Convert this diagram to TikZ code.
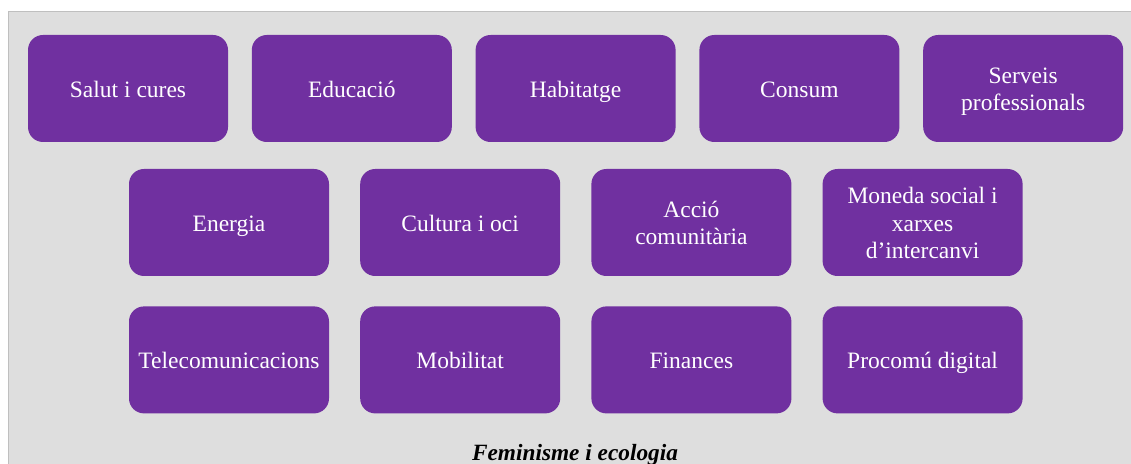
\documentclass[tikz,border=0pt]{standalone}
\usepackage{fontspec}
\setmainfont{Liberation Serif}
\usepackage{tikz}
\usetikzlibrary{positioning}

\definecolor{sectorpurple}{HTML}{7030A0}
\definecolor{panelgray}{HTML}{DEDEDE}
\definecolor{panelline}{HTML}{BFBFBF}
\newcommand{\linestrut}{\rule[-5.2pt]{0pt}{27.7pt}}

\begin{document}
\begin{tikzpicture}[
  x=1pt, y=1pt,
  sectornode/.style={fill=sectorpurple, rounded corners=15pt, minimum width=200pt, minimum height=107pt, inner sep=2pt, text=white, text width=194pt, align=flush center, font=\fontsize{23.5}{27.7}\selectfont, execute at begin node=\linestrut, execute at end node=\linestrut},
  titlelabel/.style={font=\fontsize{23.3}{28}\selectfont\bfseries\itshape, anchor=base, inner sep=0pt}
]
\useasboundingbox (0,0) rectangle (1131,463);

% Background panel
\draw[panelline, line width=1.5pt, fill=panelgray] (8.5,-10) rectangle (1145,451.5);

% First row
\node[sectornode] (salut)   at (128,374.5) {Salut i cures};
\node[sectornode] (educ)    [right=23.4pt of salut] {Educació};
\node[sectornode] (habit)   [right=23.4pt of educ] {Habitatge};
\node[sectornode] (consum)  [right=23.4pt of habit] {Consum};
\node[sectornode] (serveis) [right=23.4pt of consum] {Serveis\\professionals};

% Second row
\node[sectornode] (energia) at (229,240.5) {Energia};
\node[sectornode] (cultura) [right=30.8pt of energia] {Cultura i oci};
\node[sectornode] (accio)   [right=30.8pt of cultura] {Acció\\comunitària};
\node[sectornode] (moneda)  [right=30.8pt of accio] {Moneda social i\\xarxes\\d’intercanvi};

% Third row
\node[sectornode] (telecom)  [below=30pt of energia] {Telecomunicacions};
\node[sectornode] (mobil)    [below=30pt of cultura] {Mobilitat};
\node[sectornode] (finances) [below=30pt of accio] {Finances};
\node[sectornode] (procomu)  [below=30pt of moneda] {Procomú digital};

% Base label
\node[titlelabel] (base) at (575,2.5) {Feminisme i ecologia};
\end{tikzpicture}
\end{document}
